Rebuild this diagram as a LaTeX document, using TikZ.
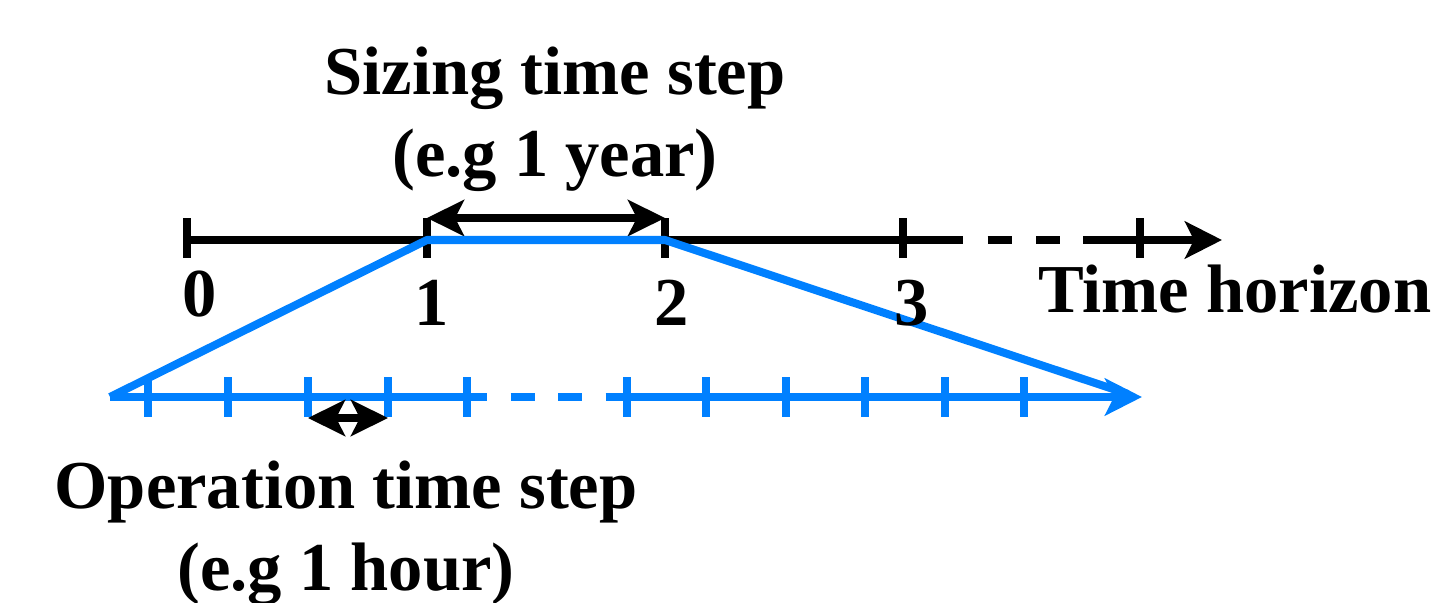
\documentclass[tikz,border=0pt]{standalone}
\usepackage{fontspec}
\setmainfont{Liberation Serif}
\usetikzlibrary{arrows.meta, positioning}
\definecolor{cBlue}{RGB}{0,128,255}
\tikzset{
	axisline/.style ={line width=0.08cm, draw=black},
	opline/.style   ={line width=0.08cm, draw=cBlue},
	tickmark/.style ={line width=0.08cm},
	headarrow/.style={-{Stealth[length=0.37cm, width=0.37cm, inset=0.09cm]}},
	spanarrow/.style={{Stealth[length=0.37cm, width=0.36cm, inset=0.09cm]}-{Stealth[length=0.37cm, width=0.36cm, inset=0.09cm]}, line width=0.08cm},
	gapdash/.style  ={dash pattern=on 0.24cm off 0.245cm, dash phase=0.24cm},
	lbl/.style      ={font=\bfseries\fontsize{19.5}{23.4}\selectfont, inner sep=0pt, align=center},
}

\begin{document}
\begin{tikzpicture}[x=0.01cm, y=-0.01cm]
	\useasboundingbox (0,0) rectangle (1435,603);
	% sizing axis (years)
	\coordinate (y0) at (187,240);
	\coordinate (y1) at (427,240);
	\coordinate (y2) at (665,240);
	\coordinate (y3) at (903,240);
	\coordinate (y4) at (1140,240);
	\coordinate (ygapL) at (963,240);
	\coordinate (ygapR) at (1083,240);
	\coordinate (yend) at (1222,240);
	\draw[axisline] (y0) -- (ygapL);
	\draw[axisline, gapdash] (ygapL) -- (ygapR);
	\draw[axisline, headarrow] (ygapR) -- (yend);
	\draw[tickmark] (y0) ++(0,-22) -- ++(0,40) (y1) ++(0,-22) -- ++(0,40) (y2) ++(0,-22) -- ++(0,40)
		(y3) ++(0,-22) -- ++(0,40) (y4) ++(0,-22) -- ++(0,40);
	\draw[spanarrow] ([yshift=0.22cm]y1) -- ([yshift=0.22cm]y2);
	% operation axis (hours)
	\coordinate (o0) at (110,397);
	\coordinate (ogapL) at (487,397);
	\coordinate (ogapR) at (607,397);
	\coordinate (oend) at (1142,397);
	\draw[opline] (o0) -- (ogapL);
	\draw[opline, dash pattern=on 0.24cm off 0.235cm, dash phase=0.24cm] (ogapL) -- (ogapR);
	\draw[opline, headarrow] (ogapR) -- (oend);
	\draw[tickmark, cBlue] (148,377) -- ++(0,40) (228,377) -- ++(0,40) (308,377) -- ++(0,40) (388,377) -- ++(0,40)
		(467,377) -- ++(0,40) (627,377) -- ++(0,40) (706,377) -- ++(0,40) (786,377) -- ++(0,40)
		(865,377) -- ++(0,40) (945,377) -- ++(0,40) (1024,377) -- ++(0,40);
	\draw[opline, line join=round] (o0) -- (y1) -- (y2) -- (1128,394);
	\coordinate (hA) at (308,418);
	\coordinate (hB) at (388,418);
	\draw[spanarrow] (hA) -- (hB);
	% labels
	\node[lbl, anchor=north] (sizing) at (555,46) {Sizing time step\\(e.g 1 year)};
	\node[lbl, anchor=base] (n0) at (200,317) {0};
	\node[lbl, anchor=base] (n1) at (432,325) {1};
	\node[lbl, anchor=base] (n2) at (672,325) {2};
	\node[lbl, anchor=base] (n3) at (912,325) {3};
	\node[lbl, anchor=base east] (horizon) at (1432,312) {Time horizon};
	\node[lbl, anchor=north] (operation) at (346,460) {Operation time step\\(e.g 1 hour)};
\end{tikzpicture}
\end{document}
